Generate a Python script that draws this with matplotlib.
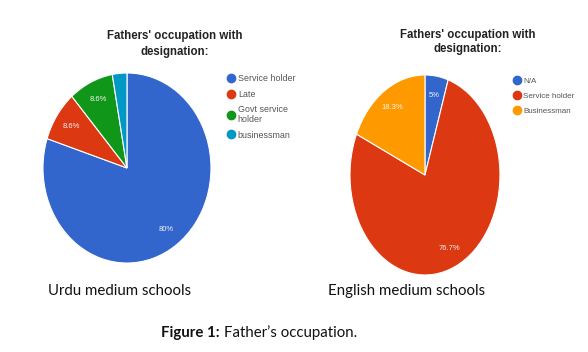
import matplotlib
matplotlib.use("Agg")
import matplotlib.pyplot as plt
from matplotlib.lines import Line2D

# Urdu medium schools
urdu_labels = ["Service holder", "Late", "Govt service\nholder", "businessman"]
urdu_values = [80.0, 8.6, 8.6, 2.8]
urdu_colors = ["#3366cc", "#dc3912", "#109618", "#0099c6"]

# English medium schools
eng_labels = ["N/A", "Service holder", "Businessman"]
eng_values = [5.0, 76.7, 18.3]
eng_colors = ["#3366cc", "#dc3912", "#ff9900"]

title = "Fathers' occupation with\ndesignation:"


def pct(p):
    if p < 4:
        return ""
    s = f"{p:.1f}"
    if s.endswith(".0"):
        s = s[:-2]
    return s + "%"


def draw(ax, values, colors):
    wedges, texts, autotexts = ax.pie(
        values, colors=colors, startangle=90, counterclock=False,
        autopct=pct, pctdistance=0.8,
        wedgeprops=dict(edgecolor="white", linewidth=0.8),
        textprops=dict(color="#f4f4f4", fontsize=5.5, family="Liberation Sans"))
    ax.set_aspect("auto")
    ax.set_xlim(-1, 1)
    ax.set_ylim(-1, 1)
    return wedges


def legend(ax, labels, colors, x, y, size, spacing):
    handles = [Line2D([], [], marker="o", linestyle="", markersize=6,
                      markerfacecolor=c, markeredgecolor=c) for c in colors]
    ax.legend(handles, labels, loc="upper left", bbox_to_anchor=(x, y),
              bbox_transform=ax.figure.transFigure, frameon=False,
              handlelength=0.6, handletextpad=0.45, labelspacing=spacing,
              borderpad=0, prop=dict(family="Liberation Sans", size=size),
              labelcolor="#555555")


fig = plt.figure(figsize=(5.88, 3.52), dpi=100)
fig.patch.set_facecolor("white")

ax1 = fig.add_axes([0.0731, 0.2528, 0.2857, 0.5398])
draw(ax1, urdu_values, urdu_colors)
legend(ax1, urdu_labels, urdu_colors, 224 / 588, 1 - 70 / 352, 6.4, 0.7)

ax2 = fig.add_axes([0.5952, 0.2188, 0.2551, 0.5682])
draw(ax2, eng_values, eng_colors)
legend(ax2, eng_labels, eng_colors, 511 / 588, 1 - 73 / 352, 5.8, 0.95)

fig.text(175 / 588, 1 - 44 / 352, title, ha="center", va="center",
         fontsize=8.3, fontweight="bold", family="Liberation Sans",
         color="#222222", linespacing=1.45)
fig.text(468 / 588, 1 - 42 / 352, title, ha="center", va="center",
         fontsize=8.3, fontweight="bold", family="Liberation Sans",
         color="#222222", linespacing=1.2)

fig.text(120 / 588, 1 - 291 / 352, "Urdu medium schools", ha="center",
         va="center", fontsize=10.8, family="Lato", color="#111111")
fig.text(407 / 588, 1 - 291 / 352, "English medium schools", ha="center",
         va="center", fontsize=10.8, family="Lato", color="#111111")

cap1 = fig.text(161 / 588, 1 - 333 / 352, "Figure 1:", ha="left",
                va="center", fontsize=10.8, family="Lato",
                fontweight="bold", color="#111111")
fig.canvas.draw()
bb = cap1.get_window_extent(fig.canvas.get_renderer())
fig.text(bb.x1 / fig.bbox.width + 4 / 588, 1 - 333 / 352,
         "Father\u2019s occupation.", ha="left",
         va="center", fontsize=10.8, family="Lato", color="#111111")

fig.savefig("out.png", dpi=100, facecolor="white")
